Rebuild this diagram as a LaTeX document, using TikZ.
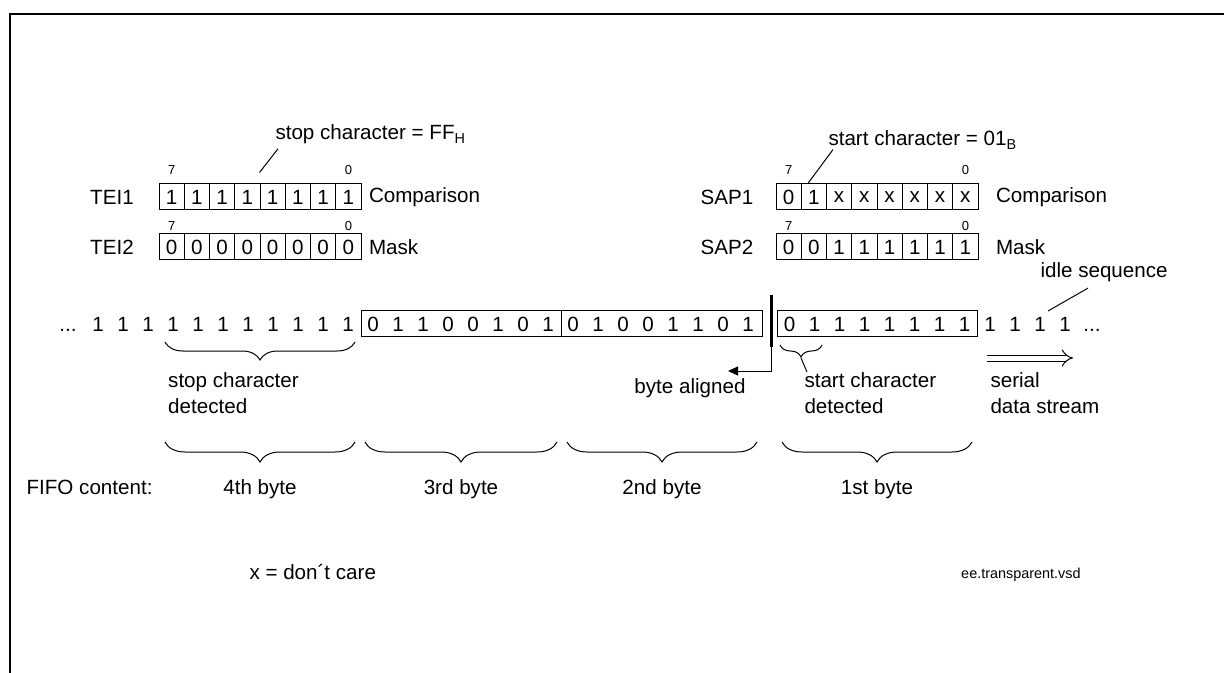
\documentclass[tikz,border=0pt]{standalone}
\usepackage{fontspec}
\setmainfont{Liberation Sans}
\usetikzlibrary{positioning,arrows.meta,decorations.pathreplacing}

\tikzset{
    bitcell/.style={draw, minimum width=12.625pt, minimum height=13pt, inner sep=0pt, font=\fontsize{10.3}{13}\selectfont},
    bitnum/.style={inner sep=0pt, font=\fontsize{6.5}{7}\selectfont},
    lbl/.style={inner sep=0pt, font=\fontsize{10.3}{13}\selectfont},
    bytebox/.style={draw, minimum height=12.5pt, inner sep=0pt},
    bytebrace/.style={decorate, decoration={brace, mirror, amplitude=#1}},
}

\begin{document}
\begin{tikzpicture}[x=0.5pt, y=-0.5pt, line width=0.5pt]
    \useasboundingbox (0,0) rectangle (1224,673);
    \draw[line width=1.25pt] (10,673) -- (10,14) -- (1224,14);
    % Registers TEI1/TEI2 and SAP1/SAP2.
        \foreach \b [count=\i] in {1,1,1,1,1,1,1,1}
            \node[bitcell] (tei1-\i) at ({159+25.25*(\i-0.5)},197) {\b};
        \foreach \b [count=\i] in {0,0,0,0,0,0,0,0}
            \node[bitcell] (tei2-\i) at ({159+25.25*(\i-0.5)},247) {\b};
        \foreach \b [count=\i] in {0,1,x,x,x,x,x,x}
            \node[bitcell] (sap1-\i) at ({776+25.25*(\i-0.5)},197) {\b};
        \foreach \b [count=\i] in {0,0,1,1,1,1,1,1}
            \node[bitcell] (sap2-\i) at ({776+25.25*(\i-0.5)},247) {\b};
        \foreach \r in {tei1,sap1} {
            \node[bitnum, above=4pt of \r-1] (\r-hi) {7};
            \node[bitnum, above=4pt of \r-8] (\r-lo) {0};
        }
        \foreach \r in {tei2,sap2} {
            \node[bitnum, above=1.2pt of \r-1] (\r-hi) {7};
            \node[bitnum, above=1.2pt of \r-8] (\r-lo) {0};
        }
    % Register names and the texts beside them.
        \node[lbl] (tei1) at (112,197) {TEI1};
        \node[lbl] (tei2) at (112,247) {TEI2};
        \node[lbl] (sap1) at (727,197) {SAP1};
        \node[lbl] (sap2) at (727,247) {SAP2};
        \node[lbl, right=3.5pt of tei1-8] (tei1cmp) {Comparison};
        \node[lbl, right=3.5pt of tei2-8] (tei2msk) {Mask};
        \node[lbl, right=8.5pt of sap1-8] (sap1cmp) {Comparison};
        \node[lbl, right=8.5pt of sap2-8] (sap2msk) {Mask};
        \node[lbl, anchor=base west] (stoplbl) at (275,140) {stop character = FF\textsubscript{H}};
        \node[lbl, anchor=base west] (startlbl) at (828,146) {start character = 01\textsubscript{B}};
        \draw ([xshift=1.5pt, yshift=-2pt]stoplbl.south west) -- ([yshift=5.5pt]tei1-5.north west);
        \draw ([xshift=2.5pt]startlbl.south west) -- ([xshift=-3pt]sap1-2.north);
    % The serial data stream.
        \node[bytebox, minimum width=100pt, anchor=west] (byte3) at (361,323.5) {};
        \node[bytebox, minimum width=100.5pt, anchor=west] (byte2) at (561,323.5) {};
        \node[bytebox, minimum width=100pt, anchor=west] (byte1) at (777,323.5) {};
        \node[lbl, anchor=base] (dotsl) at (68,331) {...};
        \foreach \b [count=\i from 0] in {1,1,1,1,1,1,1,1,1,1,1,0,1,1,0,0,1,0,1,0,1,0,0,1,1,0,1}
            \node[lbl, anchor=base] (bit-\i) at ({98+25*\i},331) {\b};
        \foreach \b [count=\i] in {0,1,1,1,1,1,1,1}
            \node[lbl, anchor=base] (first-\i) at ({789.5+25*(\i-1)},331) {\b};
        \foreach \i in {1,...,4}
            \node[lbl, anchor=base] (idle-\i) at ({990+25*(\i-1)},331) {1};
        \node[lbl, anchor=base] (dotsr) at (1092,331) {...};
    % Byte alignment mark.
        \coordinate (algntop) at (771.5,295);
        \coordinate (algnbot) at (771.5,347);
        \coordinate (algncrn) at (771.5,371);
        \coordinate (algnend) at (728,371);
        \draw[line width=1.4pt] (algntop) -- (algnbot);
        \draw[-{Triangle[length=5pt, width=4.5pt]}] (algnbot) -- (algncrn) -- (algnend);
        \node[lbl, anchor=base] (aligned) at (690,393) {byte aligned};
    % Braces under the stream.
        \draw[bytebrace=9pt] (165,342) -- (355,342);
        \node[lbl, anchor=north west, align=left] (stopdet) at (167.7,372) {stop character\\detected};
        \draw[bytebrace=6pt] (780,345) -- (822,345);
        \coordinate (stbrace) at (801,358);
        \node[lbl, anchor=north west, align=left] (startdet) at (804,372) {start character\\detected};
        \draw (stbrace) -- ([xshift=1.5pt]startdet.north west);
        \node[lbl, anchor=north west, align=left] (serial) at (990,372) {serial\\data stream};
        \coordinate (sdsA) at (987,358);
        \coordinate (sdsB) at (1073,358);
        \draw[double, double distance=2.5pt, -{Implies[scale=2.2]}] (sdsA) -- (sdsB);
        \node[lbl, anchor=west] (idle) at (1040,272) {idle sequence};
        \coordinate (idlept) at (1048,311);
        \draw (idlept) -- ([xshift=24pt, yshift=-3pt]idle.south west);
    % FIFO content.
        \draw[bytebrace=10pt] (165,442) -- (355,442);
        \draw[bytebrace=10pt] (365,442) -- (557,442);
        \draw[bytebrace=10pt] (567,442) -- (757,442);
        \draw[bytebrace=10pt] (782,442) -- (972,442);
        \node[lbl, anchor=base east] (fifo) at (153,494) {FIFO content:};
        \node[lbl, anchor=base] (fourth) at (260,494) {4th byte};
        \node[lbl, anchor=base] (third) at (461,494) {3rd byte};
        \node[lbl, anchor=base] (second) at (662,494) {2nd byte};
        \node[lbl, anchor=base] (firstb) at (877,494) {1st byte};
    % Footnotes.
        \node[lbl, anchor=base west] (dontcare) at (249,579) {x = don´t care};
        \node[lbl, anchor=base east, font=\fontsize{7.2}{8}\selectfont] (vsd) at (1081,578) {ee.transparent.vsd};
\end{tikzpicture}
\end{document}
